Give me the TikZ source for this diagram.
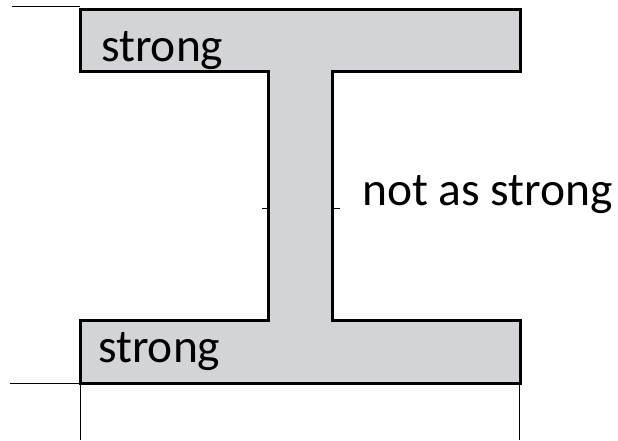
\documentclass[tikz,border=0pt]{standalone}
\usepackage{fontspec}
\setmainfont{Carlito}
\definecolor{beamgray}{RGB}{211,212,215}
\begin{document}
\begin{tikzpicture}
    [ x=1pt, y=1pt,
      beam/.style={draw=black, fill=beamgray, line width=3pt, line join=miter},
      guide/.style={draw=black, line width=1pt},
      lbl/.style={anchor=base west, inner sep=0pt, font=\fontsize{47.5}{56}\selectfont} ]

    \useasboundingbox (0,0) rectangle (618,440);

    % the I-section
    \draw[beam] (80,430) -- (520,430) -- (520,368) -- (332,368) -- (332,120)
        -- (520,120) -- (520,57) -- (80,57) -- (80,120) -- (268,120)
        -- (268,368) -- (80,368) -- cycle;

    % thin guide lines
    \draw[guide] (12,433) -- (80,433);
    \draw[guide] (10,57) -- (80,57);
    \draw[guide] (80,57) -- (80,0);
    \draw[guide] (519,57) -- (519,0);
    \draw[guide] (262,232) -- (268,232);
    \draw[guide] (332,232) -- (340,232);

    \node (topflange) at (101,378) [lbl] {strong};
    \node (botflange) at (98,78) [lbl] {strong};
    \node (web) at (362,235) [lbl] {not as strong};

\end{tikzpicture}
\end{document}
